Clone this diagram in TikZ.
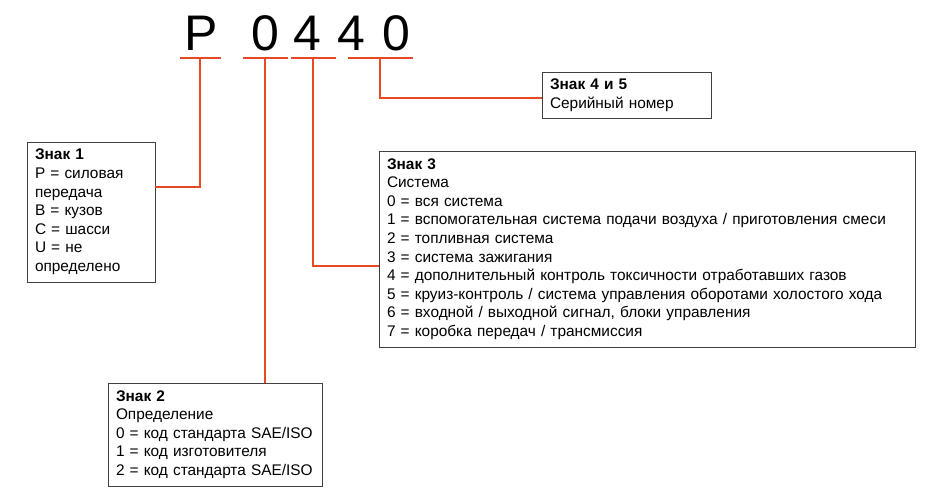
\documentclass[tikz,border=0pt]{standalone}
\usepackage{fontspec}
\setmainfont{Liberation Sans}
\definecolor{codered}{HTML}{E64A22}
\definecolor{boxline}{HTML}{404040}

\tikzset{
  digit/.style={font=\fontsize{50}{50}\selectfont, inner sep=0pt, anchor=base},
  underbar/.style={fill=codered, inner sep=0pt, minimum height=2.4pt},
  lead/.style={draw=codered, line width=2.4pt},
  infobox/.style={draw=boxline, line width=0.8pt, fill=white, anchor=north west,
    align=left, inner xsep=8pt, inner ysep=4pt, outer sep=0pt,
    font=\fontsize{15.4}{18.6}\selectfont},
}

\begin{document}
\begin{tikzpicture}[x=1pt, y=-1pt]
    \useasboundingbox (0,0) rectangle (939,499);
    \node[digit] (chP) at (201,50) {P};
    \node[digit] (ch0) at (265,50) {0};
    \node[digit] (ch4) at (307,50) {4};
    \node[digit] (ch4b) at (351,50) {4};
    \node[digit] (ch0b) at (396,50) {0};

    \node[underbar, minimum width=41pt] (uP) at (200,58) {};
    \node[underbar, minimum width=45pt] (u0) at (265,58) {};
    \node[underbar, minimum width=45pt] (u4) at (313,58) {};
    \node[underbar, minimum width=65pt] (u40) at (380,58) {};

    \node[infobox, text width=112pt, minimum height=140pt] (sign1) at (27,142)
        {\textbf{Знак 1}\\P = силовая\\передача\\B = кузов\\C = шасси\\U = не\\определено};
    \node[infobox, text width=198pt, minimum height=103pt] (sign2) at (108,383)
        {\textbf{Знак 2}\\Определение\\0 = код стандарта SAE/ISO\\1 = код изготовителя\\2 = код стандарта SAE/ISO};
    \node[infobox, text width=520pt, minimum height=196pt] (sign3) at (379,151)
        {\textbf{Знак 3}\\Система\\0 = вся система\\
         1 = вспомогательная система подачи воздуха / приготовления смеси\\
         2 = топливная система\\3 = система зажигания\\
         4 = дополнительный контроль токсичности отработавших газов\\
         5 = круиз-контроль / система управления оборотами холостого хода\\
         6 = входной / выходной сигнал, блоки управления\\
         7 = коробка передач / трансмиссия};
    \node[infobox, text width=153pt, minimum height=46pt] (sign45) at (542,72)
        {\textbf{Знак 4 и 5}\\Серийный номер};

    \draw[lead] (uP.south) |- ([yshift=25pt]sign1.east);
    \draw[lead] (u0.south) -- (u0.south |- sign2.north);
    \draw[lead] (u4.south) |- ([yshift=-17pt]sign3.west);
    \draw[lead] (u40.south) |- ([yshift=-3pt]sign45.west);
\end{tikzpicture}
\end{document}
